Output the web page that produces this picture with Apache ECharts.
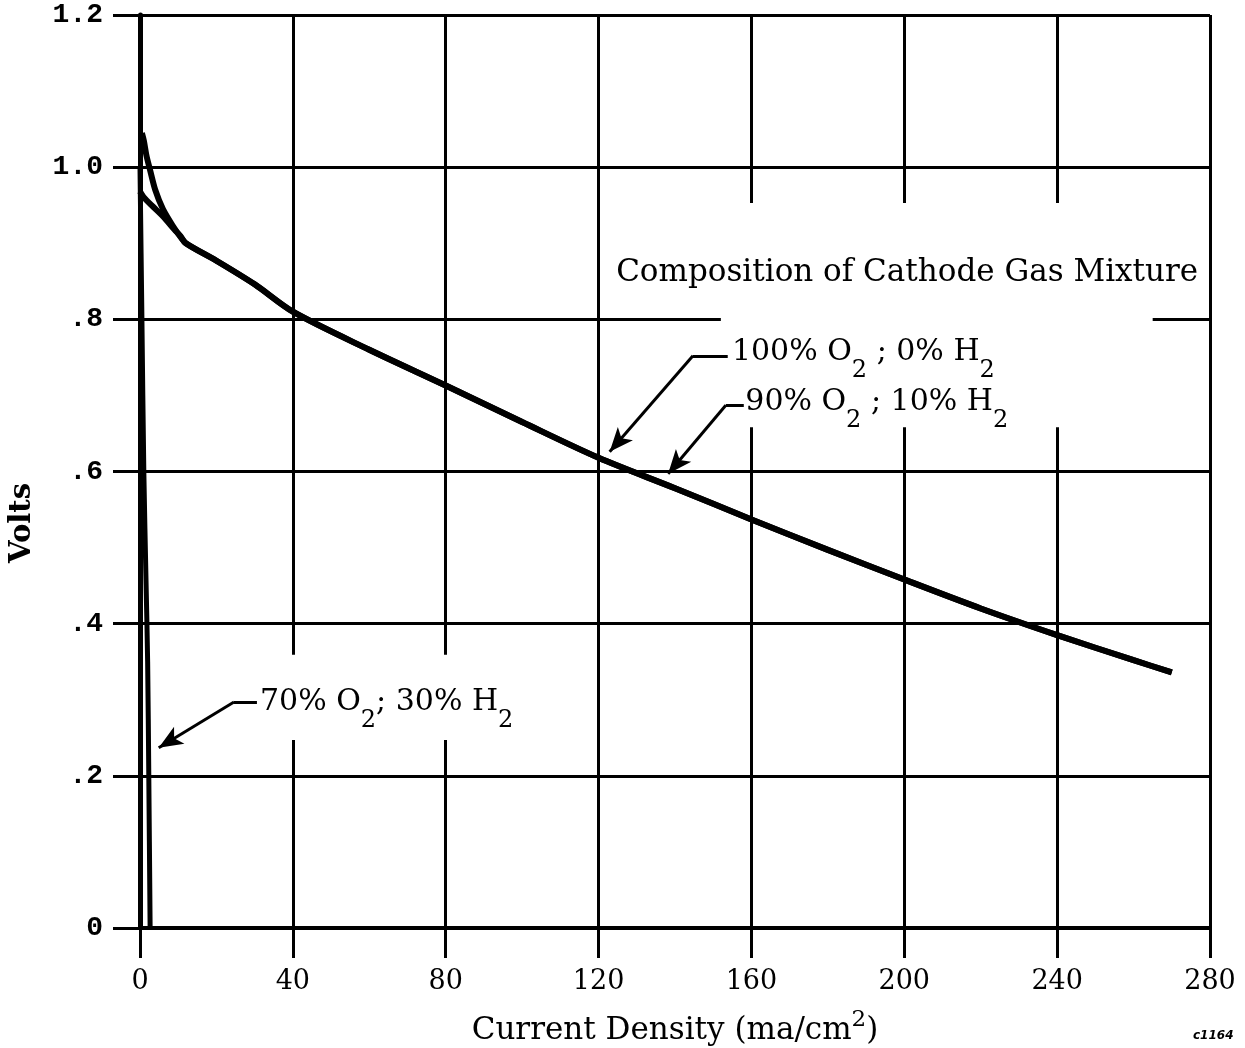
<!DOCTYPE html>
<html>
<head>
<meta charset="utf-8">
<script src="https://cdn.jsdelivr.net/npm/echarts@6/dist/echarts.min.js"></script>
<style>
html,body{margin:0;padding:0;background:#fff;}
#chart{width:1245px;height:1048px;}
</style>
</head>
<body>
<div id="chart"></div>
<script>
// axis ticks
var xTicks = [0, 40, 80, 120, 160, 200, 240, 280];
var yTicks = [0, 0.2, 0.4, 0.6, 0.8, 1.0, 1.2];

// part shared by the 100% and 90% O2 curves (ma/cm2, volts)
var commonCurrent = [12, 20, 30, 40, 60, 80, 100, 120, 140, 160, 180, 200, 220, 240, 260, 270];
var commonVolts   = [0.900, 0.877, 0.846, 0.810, 0.760, 0.713, 0.665, 0.618, 0.578, 0.537, 0.497, 0.458, 0.420, 0.385, 0.352, 0.336];

// 100% O2 ; 0% H2 - start of curve
var o2_100Current = [0.5, 1.0, 1.7, 2.6, 4, 6, 8.7, 10.5];
var o2_100Volts   = [1.045, 1.035, 1.015, 0.997, 0.970, 0.945, 0.922, 0.909];

// 90% O2 ; 10% H2 - start of curve
var o2_90Current = [0, 0.9, 3, 6.1, 9, 10.5];
var o2_90Volts   = [0.968, 0.961, 0.950, 0.935, 0.918, 0.910];

// 70% O2 ; 30% H2
var o2_70Current = [0, 0.5, 1.0, 1.6, 2.0, 2.3, 2.65];
var o2_70Volts   = [1.0, 0.8, 0.6, 0.45, 0.35, 0.2, 0];

function pairs(xs, ys) {
    return xs.map(function (x, i) { return [x, ys[i]]; });
}

var serif = 'DejaVu Serif';

// annotation texts, placed in data coordinates
var notes = [
    {text: 'Composition of Cathode Gas Mixture', at: [124.6, 0.861], size: 31},
    {text: '100% O{s|2} ; 0% H{s|2}', at: [154.9, 0.757], size: 30},
    {text: '90% O{s|2} ; 10% H{s|2}', at: [158.4, 0.691], size: 30},
    {text: '70% O{s|2}; 30% H{s|2}', at: [31.4, 0.297], size: 30}
];

// arrow leaders: [corner, text end] and [corner, tip]
var leaders = [
    [[144.7, 0.752], [153.8, 0.752]],
    [[153.3, 0.687], [158.0, 0.687]],
    [[24.6, 0.297], [30.6, 0.297]]
];
var arrows = [
    [[144.7, 0.752], [122.9, 0.626]],
    [[153.3, 0.687], [138.2, 0.597]],
    [[24.6, 0.297], [4.9, 0.237]]
];

// places where the grid lines are left open around the lettering
var gapsH = [{y: 0.8, from: 152, to: 265}];
var gapsV = [
    {x: 160, from: 0.658, to: 0.953},
    {x: 200, from: 0.658, to: 0.953},
    {x: 240, from: 0.658, to: 0.953},
    {x: 40, from: 0.247, to: 0.359},
    {x: 80, from: 0.247, to: 0.359}
];

var myChart = echarts.init(document.getElementById('chart'));

var lineStyle = {color: '#000', width: 6};
var markData = [];
leaders.forEach(function (l) {
    markData.push([{coord: l[0], symbol: 'none'}, {coord: l[1], symbol: 'none'}]);
});
arrows.forEach(function (a) {
    markData.push([{coord: a[0], symbol: 'none'}, {coord: a[1], symbol: 'arrow'}]);
});

var option = {
    animation: false,
    backgroundColor: '#fff',
    grid: {left: 140, top: 15, width: 1070, height: 913, containLabel: false, outerBoundsMode: 'none'},
    xAxis: {
        type: 'value',
        min: xTicks[0],
        max: xTicks[xTicks.length - 1],
        interval: 40,
        name: 'Current Density (ma/cm{sup|2})',
        nameLocation: 'middle',
        nameGap: 81,
        nameTextStyle: {
            fontFamily: serif, fontSize: 31, color: '#000',
            rich: {sup: {fontFamily: serif, fontSize: 23, padding: [0, 0, 20, 0], color: '#000'}}
        },
        axisLine: {lineStyle: {color: '#000', width: 4}},
        axisTick: {length: 30, lineStyle: {color: '#000', width: 3}},
        axisLabel: {fontFamily: serif, fontSize: 27, color: '#000', margin: 40},
        splitLine: {show: true, lineStyle: {color: '#000', width: 3}}
    },
    yAxis: {
        type: 'value',
        min: yTicks[0],
        max: yTicks[yTicks.length - 1],
        interval: 0.2,
        axisLine: {lineStyle: {color: '#000', width: 5}},
        axisTick: {length: 27, lineStyle: {color: '#000', width: 3}},
        axisLabel: {
            fontFamily: 'Liberation Mono', fontSize: 28, fontWeight: 'bold', color: '#000', margin: 37,
            formatter: function (v) {
                if (v === 0) return '0';
                var s = v.toFixed(1);
                return v < 1 ? s.slice(1) : s;
            }
        },
        splitLine: {show: true, lineStyle: {color: '#000', width: 3}}
    },
    series: [
        {
            name: '100% O2 ; 0% H2',
            type: 'line',
            data: pairs(o2_100Current.concat(commonCurrent), o2_100Volts.concat(commonVolts)),
            showSymbol: false,
            smooth: 0.3,
            clip: false,
            lineStyle: lineStyle,
            markLine: {
                silent: true,
                animation: false,
                symbolSize: [15, 24],
                lineStyle: {color: '#000', width: 3, type: 'solid'},
                label: {show: false},
                data: markData
            }
        },
        {
            name: '90% O2 ; 10% H2',
            type: 'line',
            data: pairs(o2_90Current.concat(commonCurrent), o2_90Volts.concat(commonVolts)),
            showSymbol: false,
            smooth: 0.3,
            clip: false,
            lineStyle: lineStyle
        },
        {
            name: '70% O2 ; 30% H2',
            type: 'line',
            data: pairs(o2_70Current, o2_70Volts),
            showSymbol: false,
            smooth: 0.3,
            clip: false,
            lineStyle: {color: '#000', width: 5}
        }
    ]
};

myChart.setOption(option);

// white patches over the grid where the original leaves it open, and the texts
function px(p) { return myChart.convertToPixel({gridIndex: 0}, p); }
var graphics = [];
gapsH.forEach(function (g) {
    var a = px([g.from, g.y]), b = px([g.to, g.y]);
    graphics.push({type: 'rect', z: 1, silent: true,
        shape: {x: a[0], y: a[1] - 4, width: b[0] - a[0], height: 8}, style: {fill: '#fff'}});
});
gapsV.forEach(function (g) {
    var a = px([g.x, g.to]), b = px([g.x, g.from]);
    graphics.push({type: 'rect', z: 1, silent: true,
        shape: {x: a[0] - 4, y: a[1], width: 8, height: b[1] - a[1]}, style: {fill: '#fff'}});
});
notes.forEach(function (n) {
    var p = px(n.at);
    graphics.push({type: 'text', z: 3, silent: true, x: p[0], y: p[1],
        style: {
            text: n.text, fontFamily: serif, fontSize: n.size, fill: '#000',
            align: 'left', verticalAlign: 'middle',
            rich: {s: {fontFamily: serif, fontSize: 24, padding: [38, 0, 0, 0], fill: '#000'}}
        }});
});
// y axis title
graphics.push({type: 'text', z: 3, silent: true, x: 22, y: 523, rotation: Math.PI / 2,
    style: {text: 'Volts', fontFamily: serif, fontSize: 29, fontWeight: 'bold', fill: '#000',
        align: 'center', verticalAlign: 'middle'}});
graphics.push({type: 'text', z: 3, silent: true, x: 1193, y: 1030,
    style: {text: 'c1164', fontFamily: 'DejaVu Sans', fontSize: 12, fontWeight: 'bold', fontStyle: 'italic', fill: '#000'}});

myChart.setOption({graphic: graphics});
</script>
</body>
</html>
